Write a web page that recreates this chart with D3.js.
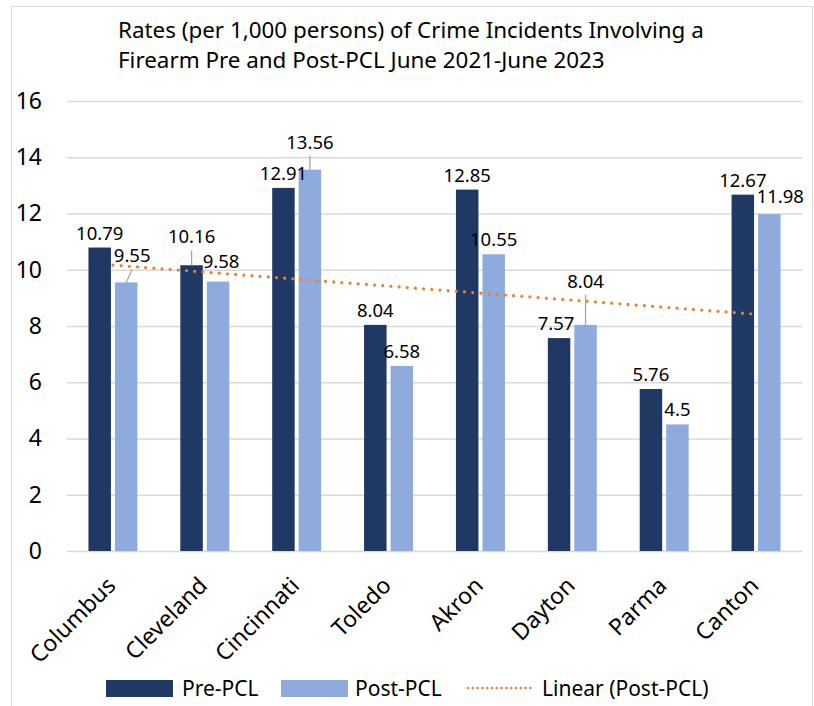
<!DOCTYPE html>
<html>
<head>
<meta charset="utf-8">
<script src="https://cdn.jsdelivr.net/npm/d3@7"></script>
<style>
  body { margin: 0; background: #fff; }
  svg { display: block; font-family: "Noto Sans", "Open Sans", sans-serif; }
</style>
</head>
<body>
<script>
// data
var cities = ["Columbus", "Cleveland", "Cincinnati", "Toledo", "Akron", "Dayton", "Parma", "Canton"];
var prePCL = [10.79, 10.16, 12.91, 8.04, 12.85, 7.57, 5.76, 12.67];
var postPCL = [9.55, 9.58, 13.56, 6.58, 10.55, 8.04, 4.5, 11.98];
var yTicks = [0, 2, 4, 6, 8, 10, 12, 14, 16];
var titleLines = ["Rates (per 1,000 persons) of Crime Incidents Involving a",
                  "Firearm Pre and Post-PCL June 2021-June 2023"];

var width = 814, height = 706;
var colPre = "#203864", colPost = "#8faadc", colTrend = "#ed7d31";

var svg = d3.select("body").append("svg")
        .attr("width", width)
        .attr("height", height);

// chart frame
svg.append("rect")
        .attr("x", 11.5).attr("y", 6.5)
        .attr("width", 801).attr("height", 710)
        .attr("fill", "#fff")
        .attr("stroke", "#d9d9d9");

// title
svg.append("g").selectAll("text")
        .data(titleLines)
        .enter().append("text")
        .attr("x", 118)
        .attr("y", function(d, i) { return 38 + i * 30; })
        .attr("font-size", 22.4)
        .attr("fill", "#000")
        .text(function(d) { return d; });

var x = d3.scaleBand()
        .domain(cities)
        .range([67, 802])
        .paddingInner(0.467)
        .paddingOuter(0.2335);

var xSub = d3.scaleBand()
        .domain(["pre", "post"])
        .range([0, x.bandwidth()])
        .paddingInner(0.151);

var y = d3.scaleLinear()
        .domain([0, 16])
        .range([551, 101]);

// gridlines + y labels
var yAxis = svg.append("g")
        .attr("transform", "translate(67,0)")
        .call(d3.axisLeft(y).tickValues(yTicks).tickSize(-735).tickPadding(25));
yAxis.select(".domain").remove();
yAxis.selectAll("line").attr("stroke", "#d9d9d9").attr("stroke-width", 1.3);
yAxis.selectAll("text")
        .attr("font-size", 23)
        .attr("font-family", "'Noto Sans', sans-serif")
        .attr("fill", "#000");

// bars
var rows = cities.map(function(c, i) {
    return {city: c, pre: prePCL[i], post: postPCL[i]};
});

var groups = svg.append("g").selectAll("g")
        .data(rows)
        .enter().append("g")
        .attr("transform", function(d) { return "translate(" + x(d.city) + ",0)"; });

groups.append("rect")
        .attr("x", xSub("pre"))
        .attr("width", xSub.bandwidth())
        .attr("y", function(d) { return y(d.pre); })
        .attr("height", function(d) { return y(0) - y(d.pre); })
        .attr("fill", colPre);

groups.append("rect")
        .attr("x", xSub("post"))
        .attr("width", xSub.bandwidth())
        .attr("y", function(d) { return y(d.post); })
        .attr("height", function(d) { return y(0) - y(d.post); })
        .attr("fill", colPost);

// trendline (least squares on Post-PCL)
var n = postPCL.length;
var mx = (n + 1) / 2, my = d3.mean(postPCL);
var sxy = d3.sum(postPCL, function(v, i) { return (i + 1 - mx) * (v - my); });
var sxx = d3.sum(postPCL, function(v, i) { return (i + 1 - mx) * (i + 1 - mx); });
var slope = sxy / sxx, icpt = my - slope * mx;
var cx = function(c) { return x(c) + x.bandwidth() / 2; };

svg.append("line")
        .attr("x1", cx(cities[0]))
        .attr("y1", y(icpt + slope * 1))
        .attr("x2", cx(cities[n - 1]))
        .attr("y2", y(icpt + slope * n))
        .attr("stroke", colTrend)
        .attr("stroke-width", 3.2)
        .attr("stroke-linecap", "round")
        .attr("stroke-dasharray", "0 8.2");

// data labels; some are nudged with leader lines like the original
var nudge = {
    "Columbus-post": {dx: 6, dy: -12, line: true},
    "Cleveland-pre": {dx: 0, dy: -14, line: true},
    "Cleveland-post": {dx: 3, dy: -6},
    "Cincinnati-post": {dx: 0, dy: -13, line: true},
    "Dayton-pre": {dx: -3, dy: 0},
    "Dayton-post": {dx: 0, dy: -29, line: true},
    "Canton-post": {dx: 11, dy: -3}
};

var labels = [];
rows.forEach(function(d) {
    ["pre", "post"].forEach(function(k) {
        var o = nudge[d.city + "-" + k] || {dx: 0, dy: 0};
        var bx = x(d.city) + xSub(k) + xSub.bandwidth() / 2;
        labels.push({v: d[k], bx: bx, top: y(d[k]), dx: o.dx, dy: o.dy, line: o.line});
    });
});

var lab = svg.append("g");
lab.selectAll("line")
        .data(labels.filter(function(d) { return d.line; }))
        .enter().append("line")
        .attr("x1", function(d) { return d.bx + d.dx; })
        .attr("y1", function(d) { return d.top - 8 + d.dy + 7; })
        .attr("x2", function(d) { return d.bx; })
        .attr("y2", function(d) { return d.top; })
        .attr("stroke", "#a6a6a6")
        .attr("stroke-width", 1.3);

lab.selectAll("text")
        .data(labels)
        .enter().append("text")
        .attr("x", function(d) { return d.bx + d.dx; })
        .attr("y", function(d) { return d.top - 8 + d.dy; })
        .attr("text-anchor", "middle")
        .attr("font-size", 18.5)
        .attr("fill", "#000")
        .text(function(d) { return d.v; });

// x category labels, rotated
svg.append("g").selectAll("text")
        .data(cities)
        .enter().append("text")
        .attr("transform", function(d) {
            return "translate(" + (cx(d) + 4) + ",587) rotate(-45)";
        })
        .attr("text-anchor", "end")
        .attr("font-size", 23)
        .attr("fill", "#000")
        .text(function(d) { return d; });

// legend
var legend = svg.append("g");
legend.append("rect").attr("x", 106).attr("y", 680).attr("width", 67).attr("height", 17).attr("fill", colPre);
legend.append("text").attr("x", 182).attr("y", 696).attr("font-size", 21).text("Pre-PCL");
legend.append("rect").attr("x", 281).attr("y", 680).attr("width", 67).attr("height", 17).attr("fill", colPost);
legend.append("text").attr("x", 355).attr("y", 696).attr("font-size", 21).text("Post-PCL");
legend.append("line")
        .attr("x1", 468).attr("x2", 535).attr("y1", 688).attr("y2", 688)
        .attr("stroke", colTrend).attr("stroke-width", 2.5)
        .attr("stroke-linecap", "round").attr("stroke-dasharray", "0 4.8");
legend.append("text").attr("x", 542).attr("y", 696).attr("font-size", 21).text("Linear (Post-PCL)");
</script>
</body>
</html>
